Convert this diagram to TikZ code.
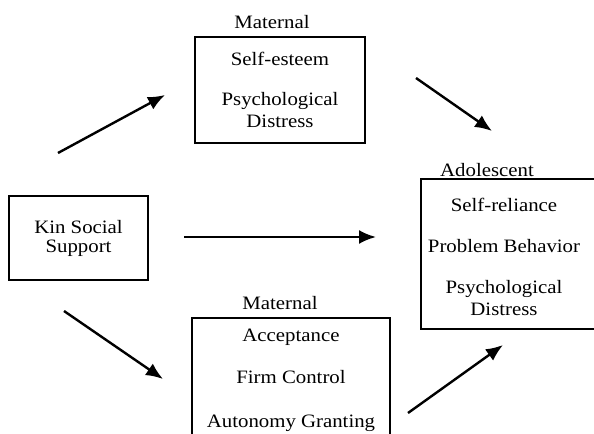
\documentclass[tikz,border=0pt]{standalone}
\usepackage{fontspec}
\setmainfont{Liberation Serif}[FakeStretch=1.1]
\usepackage{tikz}
\usetikzlibrary{arrows.meta,calc}

\begin{document}
\begin{tikzpicture}[x=1bp,y=-1bp,
    txt/.style={inner sep=0pt,align=center,font=\fontsize{19}{22}\selectfont},
    box/.style={txt,draw=black,line width=1.5bp},
    flow/.style={line width=2.4bp,-{Latex[length=17bp,width=14bp]}}]
    \useasboundingbox (0,0) rectangle (594,434);

    \node[box,minimum width=139bp,minimum height=84bp] (kin) at (78.5,238) {Kin Social\\[-3bp]Support};
    \node[box,minimum width=170bp,minimum height=106bp] (mself) at (280,90) {Self-esteem\\[18bp]Psychological\\Distress};
    \node[box,minimum width=198bp,minimum height=124bp] (mpar) at (291,380) {Acceptance\\[20bp]Firm Control\\[22bp]Autonomy Granting};
    \node[box,minimum width=190bp,minimum height=150bp] (teen) at (516,254) {};
    \node[txt] (teenitems) at (504,257) {Self-reliance\\[19bp]Problem Behavior\\[19bp]Psychological\\Distress};

    \node[txt] (mselfhd) at (272,22) {Maternal};
    \node[txt] (mparhd) at (280,303) {Maternal};
    \node[txt] (teenhd) at (487,170) {Adolescent};

    \coordinate (a1) at (58,153);  \coordinate (b1) at (165,95);
    \coordinate (a2) at (416,78);  \coordinate (b2) at (492,131);
    \coordinate (a3) at (184,237); \coordinate (b3) at (376,237);
    \coordinate (a4) at (64,311);  \coordinate (b4) at (163,379);
    \coordinate (a5) at (408,413); \coordinate (b5) at (503,345);

    \foreach \i in {1,...,5} {
      \draw[flow] (a\i) -- (b\i);
    }
  \end{tikzpicture}
\end{document}
